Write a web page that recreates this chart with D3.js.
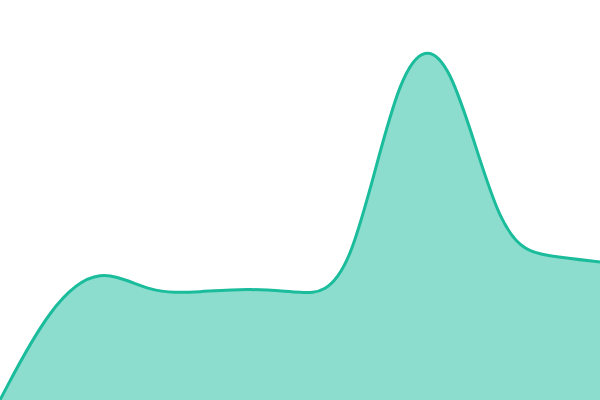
<!DOCTYPE html>
<html>
<head>
<meta charset="utf-8">
<script src="https://cdn.jsdelivr.net/npm/d3@7"></script>
<style>
  html, body { margin: 0; padding: 0; background: #fff; }
</style>
</head>
<body>
<div id="chart"></div>
<script>
// Values (x in 0..600, y in 0..400 "value" units, 0 = bottom)
var xValues = [0, 50, 100, 150, 200, 250, 300, 350, 400, 450, 500, 550, 600];
var yValues = [0, 95, 136, 106, 108, 112, 107, 106, 352, 360, 152, 144, 138];

var width = 600;
var height = 400;

var svg = d3.select("#chart").append("svg")
    .attr("width", width)
    .attr("height", height);

var x = d3.scaleLinear().domain([0, 600]).range([0, width]);
var y = d3.scaleLinear().domain([0, 400]).range([height, 0]);

var data = xValues.map(function(d, i) { return {x: d, y: yValues[i]}; });

var area = d3.area()
    .curve(d3.curveBasis)
    .x(function(d) { return x(d.x); })
    .y0(y(0))
    .y1(function(d) { return y(d.y); });

var line = d3.line()
    .curve(d3.curveBasis)
    .x(function(d) { return x(d.x); })
    .y(function(d) { return y(d.y); });

svg.append("path")
    .datum(data)
    .attr("d", area)
    .style("fill", "#1abc9c")
    .style("fill-opacity", 0.5);

svg.append("path")
    .datum(data)
    .attr("d", line)
    .style("fill", "none")
    .style("stroke", "#1abc9c")
    .style("stroke-width", 3);
</script>
</body>
</html>
